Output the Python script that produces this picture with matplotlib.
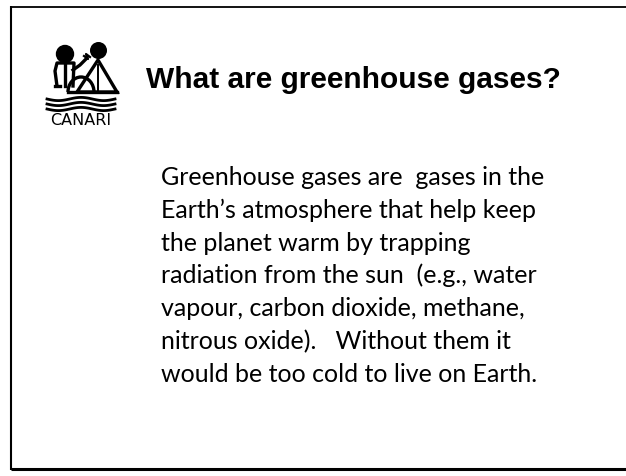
import numpy as np
import matplotlib.pyplot as plt
from matplotlib.patches import Circle, Polygon, Arc

# slide text
title = 'What are greenhouse gases?'
body_lines = [
    'Greenhouse gases are  gases in the',
    'Earth\u2019s atmosphere that help keep',
    'the planet warm by trapping',
    'radiation from the sun  (e.g., water',
    'vapour, carbon dioxide, methane,',
    'nitrous oxide).   Without them it',
    'would be too cold to live on Earth.',
]
logo_label = 'CANARI'

W, H = 626, 477

fig = plt.figure(figsize=(W / 100, H / 100), dpi=100)
ax = fig.add_axes([0, 0, 1, 1])
ax.set_xlim(0, W)
ax.set_ylim(H, 0)
ax.axis('off')

# frame (top, left, bottom; right edge runs off the slide)
ax.plot([10, W], [7.5, 7.5], color='black', lw=1.3, solid_capstyle='butt')
ax.plot([11.2, 11.2], [7, 470.5], color='black', lw=1.5, solid_capstyle='butt')
ax.plot([10.5, W], [470, 470], color='black', lw=2.2, solid_capstyle='butt')

# title
ax.text(146, 88, title, fontsize=21.5, fontweight='bold',
        family='Liberation Sans', va='baseline', ha='left')

# body text
y = 185
for line in body_lines:
    ax.text(161, y, line, fontsize=18, family='Lato', va='baseline', ha='left')
    y += 32.8

# logo, rough sketch of the CANARI mark
lw = 2.4
ax.add_patch(Circle((65, 55), 8.5, color='black'))
ax.add_patch(Circle((98.5, 51.5), 7.8, color='black'))
# left figure body
ax.plot([57, 55, 57, 74, 73], [87, 72, 64, 64, 87], color='black', lw=lw)
ax.plot([65, 65], [64, 87], color='black', lw=lw)
ax.plot([55, 60], [87, 87], color='black', lw=lw)
# raised arm and hand
ax.plot([73, 80, 86], [71, 66, 60], color='black', lw=lw)
ax.plot([84, 88, 86, 90], [57, 60, 55, 58], color='black', lw=1.6)
# tent figure
ax.add_patch(Polygon([[98, 61], [77, 93], [117, 93]], closed=True,
                     fill=False, ec='black', lw=lw))
ax.plot([98, 98], [66, 93], color='black', lw=1.4)
# hill
ax.add_patch(Arc((81, 93), 26, 30, theta1=180, theta2=360,
                 color='black', lw=lw))
ax.plot([68, 117], [93, 93], color='black', lw=lw)
# waves
xs = np.linspace(47, 115, 80)
for wy in [100, 105, 110]:
    ax.plot(xs, wy + 1.6 * np.sin((xs - 47) / 68 * 2 * np.pi * 1.5),
            color='black', lw=2)
ax.text(81, 125, logo_label, fontsize=11.5, family='DejaVu Sans',
        va='baseline', ha='center')

fig.savefig('out.png', dpi=100)
